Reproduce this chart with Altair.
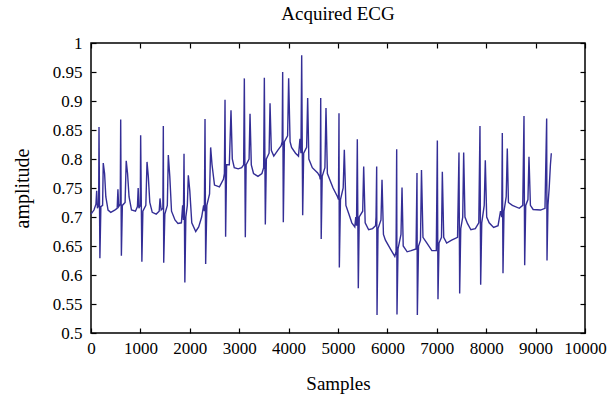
import altair as alt
import pandas as pd

# Samples (x) and amplitude (y)
samples = [
    0, 60, 100, 115, 130, 155, 162, 180, 200, 235, 248, 275, 300, 345, 400, 480, 530,
    545, 560, 592, 601, 615, 635, 690, 713, 740, 770, 820, 900, 940,
    955, 970, 998, 1005, 1030, 1050, 1110, 1134, 1160, 1190, 1240, 1320, 1380,
    1397, 1420, 1455, 1464, 1472, 1495, 1545, 1565, 1595, 1630, 1700, 1760, 1830,
    1855, 1870, 1883, 1900, 1920, 1950, 1970, 2000, 2040, 2120, 2180, 2240,
    2280, 2295, 2308, 2321, 2345, 2400, 2422, 2450, 2500, 2600, 2680,
    2700, 2713, 2725, 2745, 2800, 2834, 2860, 2900, 2980, 3050,
    3090, 3104, 3124, 3140, 3200, 3219, 3245, 3290, 3380, 3460,
    3495, 3509, 3529, 3550, 3605, 3624, 3650, 3700, 3780, 3850,
    3870, 3880, 3893, 3915, 3980, 4001, 4030, 4060, 4140, 4200,
    4230, 4250, 4265, 4285, 4305, 4365, 4386, 4410, 4480, 4589, 4630,
    4640, 4650, 4660, 4680, 4735, 4757, 4785, 4830, 4900, 4990,
    5010, 5020, 5027, 5050, 5105, 5128, 5160, 5220, 5280, 5340,
    5360, 5375, 5391, 5411, 5430, 5500, 5520, 5550, 5620, 5700, 5760,
    5770, 5783, 5790, 5810, 5870, 5891, 5920, 5960, 6060, 6150, 6175,
    6188, 6194, 6215, 6275, 6296, 6320, 6400, 6480, 6580,
    6599, 6606, 6630, 6670, 6690, 6720, 6800, 6900, 6990,
    7011, 7024, 7045, 7095, 7112, 7140, 7200, 7300, 7420,
    7449, 7463, 7485, 7525, 7544, 7570, 7620, 7690, 7780, 7850,
    7874, 7888, 7910, 7960, 7982, 8010, 8060, 8150, 8240, 8290,
    8315, 8326, 8340, 8360, 8405, 8427, 8450, 8530, 8670, 8740,
    8765, 8779, 8800, 8845, 8866, 8895, 8950, 9100, 9190,
    9224, 9231, 9250, 9275, 9300, 9318,
]
amplitude = [
    0.705, 0.712, 0.722, 0.745, 0.715, 0.720, 0.855, 0.629, 0.718, 0.720, 0.793, 0.775, 0.735, 0.712, 0.708, 0.712, 0.715,
    0.748, 0.718, 0.722, 0.868, 0.633, 0.720, 0.725, 0.797, 0.775, 0.735, 0.712, 0.710, 0.718,
    0.750, 0.715, 0.720, 0.841, 0.623, 0.710, 0.720, 0.795, 0.770, 0.725, 0.708, 0.705, 0.710,
    0.732, 0.712, 0.715, 0.857, 0.621, 0.705, 0.720, 0.807, 0.770, 0.710, 0.695, 0.689, 0.690,
    0.720, 0.695, 0.809, 0.587, 0.700, 0.720, 0.772, 0.745, 0.690, 0.675, 0.683, 0.700,
    0.720, 0.710, 0.869, 0.619, 0.720, 0.740, 0.820, 0.790, 0.755, 0.752, 0.765,
    0.775, 0.902, 0.666, 0.790, 0.790, 0.884, 0.800, 0.785, 0.783, 0.785,
    0.790, 0.939, 0.665, 0.790, 0.800, 0.878, 0.790, 0.775, 0.770, 0.775,
    0.785, 0.940, 0.687, 0.800, 0.810, 0.896, 0.815, 0.805, 0.815, 0.823,
    0.830, 0.950, 0.691, 0.830, 0.840, 0.939, 0.830, 0.820, 0.810, 0.805,
    0.835, 0.810, 0.979, 0.703, 0.810, 0.820, 0.905, 0.800, 0.785, 0.776, 0.770,
    0.765, 0.905, 0.662, 0.770, 0.785, 0.888, 0.775, 0.765, 0.750, 0.735,
    0.730, 0.879, 0.613, 0.730, 0.750, 0.816, 0.720, 0.705, 0.690, 0.683,
    0.700, 0.685, 0.834, 0.577, 0.700, 0.710, 0.787, 0.690, 0.678, 0.680, 0.685,
    0.700, 0.787, 0.531, 0.680, 0.695, 0.764, 0.670, 0.660, 0.645, 0.632, 0.640,
    0.817, 0.532, 0.645, 0.670, 0.751, 0.650, 0.640, 0.642, 0.645,
    0.776, 0.531, 0.650, 0.660, 0.781, 0.665, 0.655, 0.642, 0.642,
    0.832, 0.558, 0.655, 0.665, 0.778, 0.665, 0.655, 0.660, 0.665,
    0.811, 0.568, 0.680, 0.700, 0.811, 0.700, 0.689, 0.678, 0.680, 0.690,
    0.857, 0.583, 0.690, 0.720, 0.798, 0.700, 0.690, 0.682, 0.685, 0.710,
    0.700, 0.845, 0.603, 0.710, 0.735, 0.818, 0.725, 0.720, 0.715, 0.720,
    0.874, 0.617, 0.720, 0.730, 0.804, 0.720, 0.713, 0.712, 0.715,
    0.870, 0.625, 0.720, 0.750, 0.790, 0.810,
]

x_ticks = [0, 1000, 2000, 3000, 4000, 5000, 6000, 7000, 8000, 9000, 10000]
y_ticks = [0.5, 0.55, 0.6, 0.65, 0.7, 0.75, 0.8, 0.85, 0.9, 0.95, 1.0]

df = pd.DataFrame({"Samples": samples, "amplitude": amplitude})

FONT = "Liberation Serif"
TICK = 5

xscale = alt.Scale(domain=[0, 10000], nice=False, zero=False)
yscale = alt.Scale(domain=[0.5, 1.0], nice=False, zero=False)

main = alt.Chart(df).mark_line(color="#342e96", strokeWidth=1.4).encode(
    x=alt.X("Samples:Q", scale=xscale,
            axis=alt.Axis(orient="bottom", values=x_ticks, format="d", grid=False,
                          domain=False, offset=-TICK, tickSize=TICK, tickColor="black",
                          tickWidth=1.2,
                          labelPadding=7, labelFont=FONT, labelFontSize=17,
                          labelColor="black", title="Samples", titleFont=FONT,
                          titleFontSize=19, titleFontWeight="normal", titleColor="black",
                          titlePadding=18, labelFlush=False)),
    y=alt.Y("amplitude:Q", scale=yscale,
            axis=alt.Axis(orient="left", values=y_ticks, format="~g", grid=False,
                          domain=False, offset=-TICK, tickSize=TICK, tickColor="black",
                          tickWidth=1.2,
                          labelPadding=9, labelFont=FONT, labelFontSize=17,
                          labelColor="black", title="amplitude", titleFont=FONT,
                          titleFontSize=20, titleFontWeight="normal", titleColor="black",
                          titlePadding=20, labelFlush=False)),
)

mirror = alt.Chart(df).mark_line(opacity=0).encode(
    x=alt.X("Samples:Q", scale=xscale,
            axis=alt.Axis(orient="top", values=x_ticks, grid=False, domain=False,
                          labels=False, title=None, offset=-TICK, tickSize=TICK,
                          tickColor="black", tickWidth=1.2)),
    y=alt.Y("amplitude:Q", scale=yscale,
            axis=alt.Axis(orient="right", values=y_ticks, grid=False, domain=False,
                          labels=False, title=None, offset=-TICK, tickSize=TICK,
                          tickColor="black", tickWidth=1.2)),
)

chart = alt.layer(main, mirror).resolve_axis(x="independent", y="independent").properties(
    width=494,
    height=290,
    title=alt.TitleParams("Acquired ECG", font=FONT, fontSize=19, fontWeight="normal",
                          color="black", offset=10),
    autosize=alt.AutoSizeParams(type="none"),
    padding={"left": 91, "top": 43, "right": 27, "bottom": 73},
    background="white",
).configure_view(stroke="black", strokeWidth=1.5)

chart.save("out.html", embed_options={"renderer": "svg", "actions": False})
